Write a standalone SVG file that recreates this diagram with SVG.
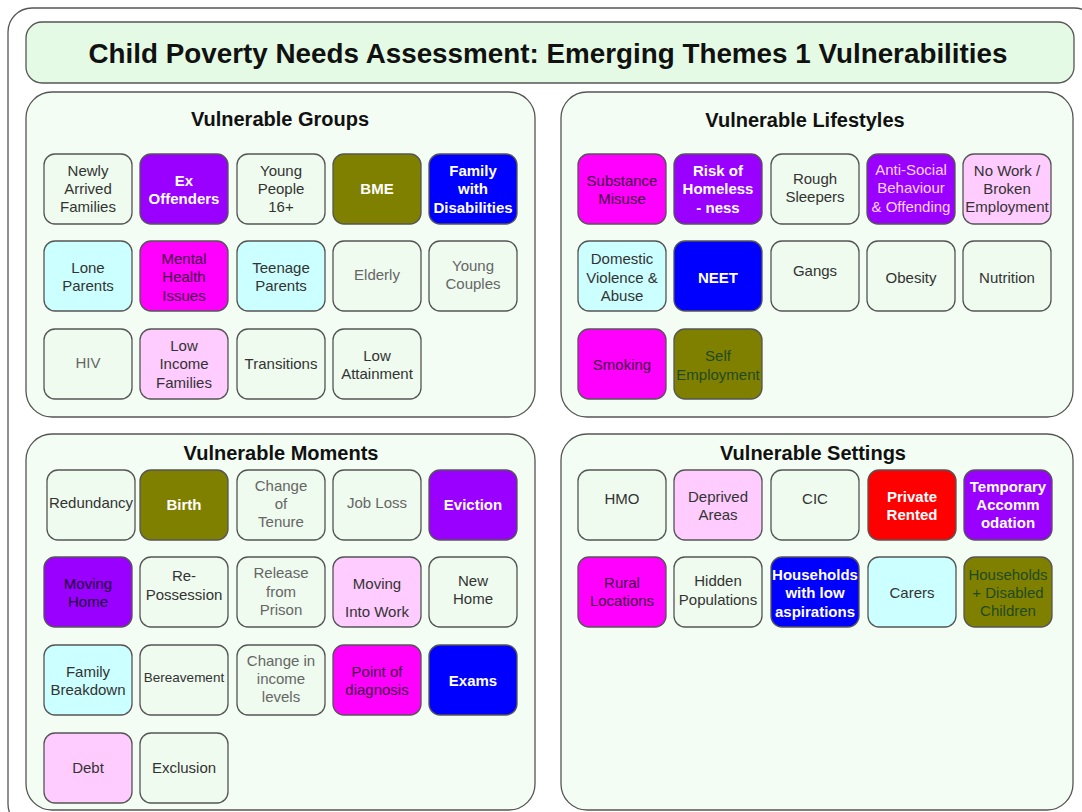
<svg xmlns="http://www.w3.org/2000/svg" width="1082" height="812" viewBox="0 0 1082 812">
<style>
.bg{fill:#ffffff}
.frame{fill:#ffffff;stroke:#555;stroke-width:1.3}
.titlebox{fill:#e4fae4;stroke:#555;stroke-width:1.3}
.panel{fill:#f3fdf3;stroke:#555;stroke-width:1.3}
.ptitle{font-family:"Liberation Sans",Arial,sans-serif;font-weight:bold;font-size:20px;fill:#111;text-anchor:middle}
.mtitle{font-family:"Liberation Sans",Arial,sans-serif;font-weight:bold;font-size:27.5px;fill:#111;text-anchor:middle}
rect.n{stroke:#555;stroke-width:1.3}
.lt{fill:#eefbee}
.pu{fill:#9900ff}
.bl{fill:#0000ff}
.ol{fill:#808000}
.cy{fill:#ccffff}
.mg{fill:#ff00ff}
.pk{fill:#ffccff}
.rd{fill:#ff0000}
text.t{font-family:"Liberation Sans",Arial,sans-serif;font-size:15px;text-anchor:middle;fill:#333}
text.gr{fill:#666}
text.w{fill:#ffffff;font-weight:bold}
text.dm{fill:#440044}
text.lp{fill:#ffd4ff}
text.dp{fill:#220033}
text.dg{fill:#1f4a1f}
text.sm{font-size:13.5px}
</style>
<rect class="bg" x="0" y="0" width="1082" height="812"/>
<rect class="frame" x="8" y="8" width="1090" height="820" rx="24"/>
<g id="title">
<rect class="titlebox" x="26" y="22" width="1048" height="61" rx="16"/>
<text class="mtitle" x="548" y="63" textLength="919" lengthAdjust="spacingAndGlyphs">Child Poverty Needs Assessment: Emerging Themes 1 Vulnerabilities</text>
</g>
<g id="panel-groups">
<rect class="panel" x="26" y="92" width="509" height="325" rx="26"/>
<text class="ptitle" x="280" y="126">Vulnerable Groups</text>
</g>
<g id="panel-lifestyles">
<rect class="panel" x="561" y="92" width="512" height="325" rx="26"/>
<text class="ptitle" x="805" y="127">Vulnerable Lifestyles</text>
</g>
<g id="panel-moments">
<rect class="panel" x="26" y="434" width="509" height="376" rx="26"/>
<text class="ptitle" x="281" y="460">Vulnerable Moments</text>
</g>
<g id="panel-settings">
<rect class="panel" x="561" y="434" width="512" height="376" rx="26"/>
<text class="ptitle" x="813" y="460">Vulnerable Settings</text>
</g>
<g id="connectors"></g>

<!-- Vulnerable Groups -->
<g id="newly-arrived"><rect class="n lt" x="44" y="154" width="88" height="70" rx="11"/><text class="t" x="88"><tspan x="88" y="176">Newly</tspan><tspan x="88" y="194">Arrived</tspan><tspan x="88" y="212">Families</tspan></text></g>
<g id="ex-offenders"><rect class="n pu" x="140" y="154" width="88" height="70" rx="11"/><text class="t w" x="184"><tspan x="184" y="186">Ex</tspan><tspan x="184" y="204">Offenders</tspan></text></g>
<g id="young-people"><rect class="n lt" x="237" y="154" width="88" height="70" rx="11"/><text class="t" x="281"><tspan x="281" y="176">Young</tspan><tspan x="281" y="194">People</tspan><tspan x="281" y="212">16+</tspan></text></g>
<g id="bme"><rect class="n ol" x="333" y="154" width="88" height="70" rx="11"/><text class="t w" x="377" y="194">BME</text></g>
<g id="family-disabilities"><rect class="n bl" x="429" y="154" width="88" height="70" rx="11"/><text class="t w" x="473"><tspan x="473" y="176">Family</tspan><tspan x="473" y="194">with</tspan><tspan x="473" y="213">Disabilities</tspan></text></g>

<g id="lone-parents"><rect class="n cy" x="44" y="241" width="88" height="70" rx="11"/><text class="t" x="88"><tspan x="88" y="273">Lone</tspan><tspan x="88" y="291">Parents</tspan></text></g>
<g id="mental-health"><rect class="n mg" x="140" y="241" width="88" height="70" rx="11"/><text class="t dm" x="184"><tspan x="184" y="264">Mental</tspan><tspan x="184" y="282">Health</tspan><tspan x="184" y="301">Issues</tspan></text></g>
<g id="teenage-parents"><rect class="n cy" x="237" y="241" width="88" height="70" rx="11"/><text class="t" x="281"><tspan x="281" y="273">Teenage</tspan><tspan x="281" y="291">Parents</tspan></text></g>
<g id="elderly"><rect class="n lt" x="333" y="241" width="88" height="70" rx="11"/><text class="t gr" x="377" y="280">Elderly</text></g>
<g id="young-couples"><rect class="n lt" x="429" y="241" width="88" height="70" rx="11"/><text class="t gr" x="473"><tspan x="473" y="271">Young</tspan><tspan x="473" y="289">Couples</tspan></text></g>

<g id="hiv"><rect class="n lt" x="44" y="329" width="88" height="70" rx="11"/><text class="t gr" x="88" y="368">HIV</text></g>
<g id="low-income"><rect class="n pk" x="140" y="329" width="88" height="70" rx="11"/><text class="t" x="184"><tspan x="184" y="351">Low</tspan><tspan x="184" y="369">Income</tspan><tspan x="184" y="388">Families</tspan></text></g>
<g id="transitions"><rect class="n lt" x="237" y="329" width="88" height="70" rx="11"/><text class="t" x="281" y="369">Transitions</text></g>
<g id="low-attainment"><rect class="n lt" x="333" y="329" width="88" height="70" rx="11"/><text class="t" x="377"><tspan x="377" y="361">Low</tspan><tspan x="377" y="379">Attainment</tspan></text></g>

<!-- Vulnerable Lifestyles -->
<g id="substance-misuse"><rect class="n mg" x="578" y="154" width="88" height="70" rx="11"/><text class="t dm" x="622"><tspan x="622" y="186">Substance</tspan><tspan x="622" y="204">Misuse</tspan></text></g>
<g id="risk-homelessness"><rect class="n pu" x="674" y="154" width="88" height="70" rx="11"/><text class="t w" x="718"><tspan x="718" y="176">Risk of</tspan><tspan x="718" y="194">Homeless</tspan><tspan x="718" y="213">- ness</tspan></text></g>
<g id="rough-sleepers"><rect class="n lt" x="771" y="154" width="88" height="70" rx="11"/><text class="t" x="815"><tspan x="815" y="184">Rough</tspan><tspan x="815" y="202">Sleepers</tspan></text></g>
<g id="anti-social"><rect class="n pu" x="867" y="154" width="88" height="70" rx="11"/><text class="t lp" x="911"><tspan x="911" y="175">Anti-Social</tspan><tspan x="911" y="193">Behaviour</tspan><tspan x="911" y="212">&amp; Offending</tspan></text></g>
<g id="no-work"><rect class="n pk" x="963" y="154" width="88" height="70" rx="11"/><text class="t" x="1007"><tspan x="1007" y="176">No Work /</tspan><tspan x="1007" y="194">Broken</tspan><tspan x="1007" y="212">Employment</tspan></text></g>

<g id="domestic-violence"><rect class="n cy" x="578" y="241" width="88" height="70" rx="11"/><text class="t" x="622"><tspan x="622" y="264">Domestic</tspan><tspan x="622" y="283">Violence &amp;</tspan><tspan x="622" y="301">Abuse</tspan></text></g>
<g id="neet"><rect class="n bl" x="674" y="241" width="88" height="70" rx="11"/><text class="t w" x="718" y="283">NEET</text></g>
<g id="gangs"><rect class="n lt" x="771" y="241" width="88" height="70" rx="11"/><text class="t" x="815" y="276">Gangs</text></g>
<g id="obesity"><rect class="n lt" x="867" y="241" width="88" height="70" rx="11"/><text class="t" x="911" y="283">Obesity</text></g>
<g id="nutrition"><rect class="n lt" x="963" y="241" width="88" height="70" rx="11"/><text class="t" x="1007" y="283">Nutrition</text></g>

<g id="smoking"><rect class="n mg" x="578" y="329" width="88" height="70" rx="11"/><text class="t dm" x="622" y="370">Smoking</text></g>
<g id="self-employment"><rect class="n ol" x="674" y="329" width="88" height="70" rx="11"/><text class="t dg" x="718"><tspan x="718" y="361">Self</tspan><tspan x="718" y="380">Employment</tspan></text></g>

<!-- Vulnerable Moments -->
<g id="redundancy"><rect class="n lt" x="47" y="470" width="88" height="70" rx="11"/><text class="t" x="91" y="508">Redundancy</text></g>
<g id="birth"><rect class="n ol" x="140" y="470" width="88" height="70" rx="11"/><text class="t w" x="184" y="510">Birth</text></g>
<g id="change-tenure"><rect class="n lt" x="237" y="470" width="88" height="70" rx="11"/><text class="t gr" x="281"><tspan x="281" y="491">Change</tspan><tspan x="281" y="509">of</tspan><tspan x="281" y="527">Tenure</tspan></text></g>
<g id="job-loss"><rect class="n lt" x="333" y="470" width="88" height="70" rx="11"/><text class="t gr" x="377" y="508">Job Loss</text></g>
<g id="eviction"><rect class="n pu" x="429" y="470" width="88" height="70" rx="11"/><text class="t w" x="473" y="510">Eviction</text></g>

<g id="moving-home"><rect class="n pu" x="44" y="557" width="88" height="70" rx="11"/><text class="t dp" x="88"><tspan x="88" y="589">Moving</tspan><tspan x="88" y="607">Home</tspan></text></g>
<g id="re-possession"><rect class="n lt" x="140" y="557" width="88" height="70" rx="11"/><text class="t" x="184"><tspan x="184" y="581">Re-</tspan><tspan x="184" y="600">Possession</tspan></text></g>
<g id="release-prison"><rect class="n lt" x="237" y="557" width="88" height="70" rx="11"/><text class="t gr" x="281"><tspan x="281" y="578">Release</tspan><tspan x="281" y="597">from</tspan><tspan x="281" y="615">Prison</tspan></text></g>
<g id="moving-into-work"><rect class="n pk" x="333" y="557" width="88" height="70" rx="11"/><text class="t" x="377"><tspan x="377" y="589">Moving</tspan><tspan x="377" y="617">Into Work</tspan></text></g>
<g id="new-home"><rect class="n lt" x="429" y="557" width="88" height="70" rx="11"/><text class="t" x="473"><tspan x="473" y="586">New</tspan><tspan x="473" y="604">Home</tspan></text></g>

<g id="family-breakdown"><rect class="n cy" x="44" y="645" width="88" height="70" rx="11"/><text class="t" x="88"><tspan x="88" y="677">Family</tspan><tspan x="88" y="695">Breakdown</tspan></text></g>
<g id="bereavement"><rect class="n lt" x="140" y="645" width="88" height="70" rx="11"/><text class="t sm" x="184" y="682">Bereavement</text></g>
<g id="change-income"><rect class="n lt" x="237" y="645" width="88" height="70" rx="11"/><text class="t gr" x="281"><tspan x="281" y="666">Change in</tspan><tspan x="281" y="684">income</tspan><tspan x="281" y="702">levels</tspan></text></g>
<g id="point-diagnosis"><rect class="n mg" x="333" y="645" width="88" height="70" rx="11"/><text class="t dm" x="377"><tspan x="377" y="677">Point of</tspan><tspan x="377" y="695">diagnosis</tspan></text></g>
<g id="exams"><rect class="n bl" x="429" y="645" width="88" height="70" rx="11"/><text class="t w" x="473" y="686">Exams</text></g>

<g id="debt"><rect class="n pk" x="44" y="733" width="88" height="70" rx="11"/><text class="t" x="88" y="773">Debt</text></g>
<g id="exclusion"><rect class="n lt" x="140" y="733" width="88" height="70" rx="11"/><text class="t" x="184" y="773">Exclusion</text></g>

<!-- Vulnerable Settings -->
<g id="hmo"><rect class="n lt" x="578" y="470" width="88" height="70" rx="11"/><text class="t" x="622" y="504">HMO</text></g>
<g id="deprived-areas"><rect class="n pk" x="674" y="470" width="88" height="70" rx="11"/><text class="t" x="718"><tspan x="718" y="502">Deprived</tspan><tspan x="718" y="520">Areas</tspan></text></g>
<g id="cic"><rect class="n lt" x="771" y="470" width="88" height="70" rx="11"/><text class="t" x="815" y="504">CIC</text></g>
<g id="private-rented"><rect class="n rd" x="868" y="470" width="88" height="70" rx="11"/><text class="t w" x="912"><tspan x="912" y="502">Private</tspan><tspan x="912" y="520">Rented</tspan></text></g>
<g id="temporary-accommodation"><rect class="n pu" x="964" y="470" width="88" height="70" rx="11"/><text class="t w" x="1008"><tspan x="1008" y="492">Temporary</tspan><tspan x="1008" y="510">Accomm</tspan><tspan x="1008" y="528">odation</tspan></text></g>

<g id="rural-locations"><rect class="n mg" x="578" y="557" width="88" height="70" rx="11"/><text class="t dm" x="622"><tspan x="622" y="588">Rural</tspan><tspan x="622" y="606">Locations</tspan></text></g>
<g id="hidden-populations"><rect class="n lt" x="674" y="557" width="88" height="70" rx="11"/><text class="t" x="718"><tspan x="718" y="586">Hidden</tspan><tspan x="718" y="605">Populations</tspan></text></g>
<g id="households-low-aspirations"><rect class="n bl" x="771" y="557" width="88" height="70" rx="11"/><text class="t w" x="815"><tspan x="815" y="580">Households</tspan><tspan x="815" y="598">with low</tspan><tspan x="815" y="617">aspirations</tspan></text></g>
<g id="carers"><rect class="n cy" x="868" y="557" width="88" height="70" rx="11"/><text class="t" x="912" y="598">Carers</text></g>
<g id="households-disabled-children"><rect class="n ol" x="964" y="557" width="88" height="70" rx="11"/><text class="t dg" x="1008"><tspan x="1008" y="580">Households</tspan><tspan x="1008" y="598">+ Disabled</tspan><tspan x="1008" y="616">Children</tspan></text></g>
</svg>
